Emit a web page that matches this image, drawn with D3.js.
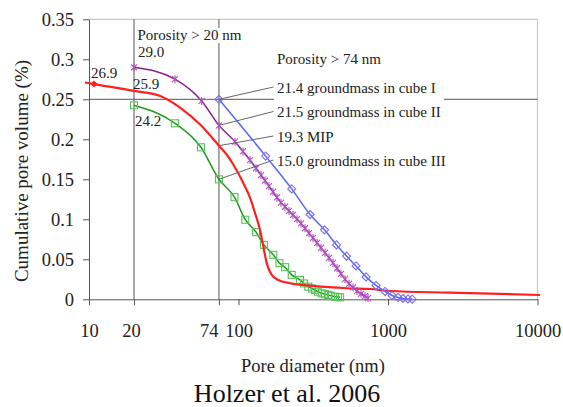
<!DOCTYPE html>
<html>
<head>
<meta charset="utf-8">
<script src="https://cdn.jsdelivr.net/npm/d3@7"></script>
<style>
  html, body { margin: 0; padding: 0; background: #fff; }
  svg { display: block; }
  svg text { font-family: "Liberation Serif", serif; }
</style>
</head>
<body>
<svg id="chart" width="563" height="407"></svg>
<script>
// ---------------- data ----------------
const xTicks = [10, 20, 74, 100, 1000, 10000];
const yTicks = [0, 0.05, 0.1, 0.15, 0.2, 0.25, 0.3, 0.35];
const refDiameters = [20, 74];
const refVolume = 0.25;

// MIP (red, smooth line)
const mipDiameter = [9.4, 10.8, 20, 30, 40.6, 55.2, 74, 83.3, 92.3, 107.6, 119.4, 128.9, 139.2, 146.6, 154.4, 166.8, 184.6, 221, 316, 529, 759, 1031, 2600, 10400];
const mipVolume   = [0.271, 0.269, 0.2605, 0.254, 0.2396, 0.2187, 0.192, 0.181, 0.1685, 0.1455, 0.127, 0.1079, 0.0869, 0.066, 0.0452, 0.0305, 0.0242, 0.0201, 0.0167, 0.0138, 0.0129, 0.0104, 0.0083, 0.0054];
const mipMarkerDiameter = [10.8];
const mipMarkerVolume = [0.269];

// groundmass in cube I (blue diamonds)
const cube1Diameter = [74, 152, 227, 301, 376, 453, 528, 611, 713, 832, 955, 1064, 1167, 1260, 1361, 1449];
const cube1Volume   = [0.25, 0.179, 0.138, 0.106, 0.0868, 0.068, 0.054, 0.0417, 0.028, 0.0173, 0.0098, 0.0048, 0.0023, 0.001, 0.0004, 0.0001];

// groundmass in cube II (purple stars)
const cube2Diameter = [20, 37.6, 56.7, 74, 94.8, 107.2, 119.4, 131.0, 141.5, 150.4, 159.9, 170.1, 180.9, 192.4, 204.6, 217.6, 231.4, 246.2, 261.9, 278.5, 296.2, 315.1, 335.1, 356.3, 379.0, 403.1, 428.7, 456.0, 484.9, 515.8, 548.5, 583.4, 620.4, 659.8, 701.8, 734.8];
const cube2Volume   = [0.290, 0.2751, 0.2479, 0.2174, 0.1970, 0.1848, 0.1741, 0.1638, 0.1553, 0.1484, 0.1414, 0.1344, 0.1273, 0.1208, 0.1157, 0.1105, 0.1054, 0.1002, 0.0948, 0.0888, 0.0827, 0.0767, 0.0706, 0.0644, 0.0581, 0.0518, 0.0455, 0.0388, 0.0319, 0.0251, 0.0194, 0.0148, 0.0103, 0.0069, 0.0039, 0.0016];

// groundmass in cube III (green squares)
const cube3Diameter = [20, 37.6, 56.1, 74, 94, 111, 131, 148, 171, 188, 205, 227, 258, 274, 293, 310, 325, 340, 360, 379, 399, 416, 442, 463, 478];
const cube3Volume   = [0.2425, 0.220, 0.190, 0.150, 0.1277, 0.0995, 0.0840, 0.068, 0.0556, 0.0452, 0.0401, 0.0305, 0.0242, 0.0198, 0.0158, 0.0135, 0.0117, 0.0095, 0.0075, 0.0064, 0.0054, 0.0044, 0.0033, 0.0029, 0.0025];

const leaderLabels = ["21.4 groundmass in cube I", "21.5 groundmass in cube II", "19.3 MIP", "15.0 groundmass in cube III"];
const startLabels = ["26.9", "29.0", "25.9", "24.2"];
const porosityLabels = ["Porosity > 20 nm", "Porosity > 74 nm"];
const xTitle = "Pore diameter (nm)";
const yTitle = "Cumulative pore volume (%)";
const chartTitle = "Holzer et al. 2006";

// ---------------- drawing ----------------
const FONT = "Liberation Serif";
const svg = d3.select("#chart");
const L = 89, R = 537.5, T = 19.3, B = 299.3;
const x = d3.scaleLog().domain([10, 10000]).range([L, R]);
const y = d3.scaleLinear().domain([0, 0.35]).range([B, T]);
const zip = (a, b) => a.map((d, i) => [d, b[i]]);

const textColor = "#222";
const axisColor = "#555";

// plot frame (light top/right)
svg.append("line").attr("x1", L - 2).attr("x2", R).attr("y1", T).attr("y2", T).attr("stroke", "#c8c8c8").attr("stroke-width", 1.2);
svg.append("line").attr("x1", R).attr("x2", R).attr("y1", T).attr("y2", B).attr("stroke", "#c8c8c8").attr("stroke-width", 1.2);

// reference lines
svg.selectAll(".vref").data(refDiameters).enter().append("line")
  .attr("x1", d => x(d)).attr("x2", d => x(d)).attr("y1", T).attr("y2", B)
  .attr("stroke", axisColor).attr("stroke-width", 1);
svg.append("line").attr("x1", L).attr("x2", R).attr("y1", y(refVolume)).attr("y2", y(refVolume))
  .attr("stroke", axisColor).attr("stroke-width", 1);

// axes
const xAxis = svg.append("g").attr("transform", `translate(0,${B})`)
  .call(d3.axisBottom(x).tickValues(xTicks).tickSize(6).tickSizeOuter(0).tickFormat(d => String(d)));
xAxis.attr("font-family", FONT);
xAxis.select(".domain").attr("stroke", axisColor);
xAxis.selectAll(".tick line").attr("stroke", axisColor);
xAxis.selectAll(".tick text").attr("y", 38).attr("dy", null)
  .attr("font-size", 18.5).attr("fill", textColor).attr("font-family", FONT)
  .attr("text-anchor", d => d === 74 ? "end" : "middle")
  .attr("x", d => d === 74 ? -1 : (d === 20 ? -3 : 0));

const yAxis = svg.append("g").attr("transform", `translate(${L},0)`)
  .call(d3.axisLeft(y).tickValues(yTicks).tickSize(6).tickSizeOuter(0).tickFormat(d => String(+d.toFixed(2))));
yAxis.attr("font-family", FONT);
yAxis.select(".domain").attr("stroke", axisColor);
yAxis.selectAll(".tick line").attr("stroke", axisColor);
yAxis.selectAll(".tick text").attr("x", -15).attr("dy", "0.34em")
  .attr("font-size", 18.5).attr("fill", textColor).attr("font-family", FONT);

// line generator
const line = d3.line().x(d => x(d[0])).y(d => y(d[1])).curve(d3.curveMonotoneX);

const series = {
  cube3: { pts: zip(cube3Diameter, cube3Volume), line: "#1f9a1f", mark: "#56c456", w: 1.5 },
  mip:   { pts: zip(mipDiameter, mipVolume), line: "#ff1f1f", w: 2.2 },
  cube2: { pts: zip(cube2Diameter, cube2Volume), line: "#86208f", mark: "#b150c0", w: 1.5 },
  cube1: { pts: zip(cube1Diameter, cube1Volume), line: "#5666ff", mark: "#7a6cf2", w: 1.5 },
};

// green
svg.append("path").attr("d", line(series.cube3.pts)).attr("fill", "none")
  .attr("stroke", series.cube3.line).attr("stroke-width", series.cube3.w);
svg.selectAll(".sq").data(series.cube3.pts).enter().append("rect")
  .attr("x", d => x(d[0]) - 3.5).attr("y", d => y(d[1]) - 3.5).attr("width", 7).attr("height", 7)
  .attr("fill", "none").attr("stroke", series.cube3.mark).attr("stroke-width", 1.1);

// red
svg.append("path").attr("d", line(series.mip.pts)).attr("fill", "none")
  .attr("stroke", series.mip.line).attr("stroke-width", series.mip.w);
svg.selectAll(".rm").data(zip(mipMarkerDiameter, mipMarkerVolume)).enter().append("path")
  .attr("transform", d => `translate(${x(d[0])},${y(d[1])})`)
  .attr("d", "M0,-3.5L3.5,0L0,3.5L-3.5,0Z").attr("fill", series.mip.line);

// purple
svg.append("path").attr("d", line(series.cube2.pts)).attr("fill", "none")
  .attr("stroke", series.cube2.line).attr("stroke-width", series.cube2.w);
svg.selectAll(".st").data(series.cube2.pts).enter().append("path")
  .attr("transform", d => `translate(${x(d[0])},${y(d[1])})`)
  .attr("d", "M-3,-3L3,3M-3,3L3,-3M0,-4L0,4")
  .attr("fill", "none").attr("stroke", series.cube2.mark).attr("stroke-width", 1.1);

// blue
svg.append("path").attr("d", line(series.cube1.pts)).attr("fill", "none")
  .attr("stroke", series.cube1.line).attr("stroke-width", series.cube1.w);
svg.selectAll(".dm").data(series.cube1.pts).enter().append("path")
  .attr("transform", d => `translate(${x(d[0])},${y(d[1])})`)
  .attr("d", "M0,-4L4,0L0,4L-4,0Z")
  .attr("fill", "none").attr("stroke", series.cube1.mark).attr("stroke-width", 1.1);

// annotations
const ann = svg.append("g").attr("font-family", FONT).attr("fill", textColor).attr("font-size", 15);

// white box behind "Porosity > 20 nm"
ann.append("rect").attr("x", 136).attr("y", 28).attr("width", 108).attr("height", 15).attr("fill", "#fff");
ann.append("text").attr("x", 137.5).attr("y", 39.5).attr("font-family", FONT).text(porosityLabels[0]);
ann.append("text").attr("x", 277).attr("y", 63.5).attr("font-family", FONT).text(porosityLabels[1]);

// start value labels
const startPos = [[91, 78], [138, 57], [133, 88.5], [135, 126]];
startLabels.forEach((t, i) => ann.append("text").attr("x", startPos[i][0]).attr("y", startPos[i][1]).attr("font-family", FONT).text(t));

// leader lines and labels
const leaderSeries = [series.cube1.pts, series.cube2.pts, series.mip.pts, series.cube3.pts];
const labelBaselines = [92.5, 117, 141.5, 165.5];
const labelX = 277;
ann.append("rect").attr("x", 274).attr("y", 80).attr("width", 170).attr("height", 21).attr("fill", "#fff");
leaderSeries.forEach((pts, i) => {
  const p = pts.find(d => d[0] === 74);
  ann.append("line").attr("x1", x(p[0])).attr("y1", y(p[1]))
    .attr("x2", labelX - 3.5).attr("y2", labelBaselines[i] - 5.5)
    .attr("stroke", "#666").attr("stroke-width", 1);
  ann.append("text").attr("x", labelX).attr("y", labelBaselines[i]).attr("font-family", FONT).text(leaderLabels[i]);
});

// axis titles
svg.append("text").attr("x", 313).attr("y", 372).attr("text-anchor", "middle").attr("font-family", FONT)
  .attr("font-size", 18.5).attr("fill", textColor).text(xTitle);
svg.append("text").attr("transform", "translate(28,171) rotate(-90)").attr("text-anchor", "middle").attr("font-family", FONT)
  .attr("font-size", 19).attr("fill", textColor).text(yTitle);
svg.append("text").attr("x", 287).attr("y", 402).attr("text-anchor", "middle").attr("font-family", FONT)
  .attr("font-size", 26).attr("fill", "#111").text(chartTitle);
</script>
</body>
</html>
